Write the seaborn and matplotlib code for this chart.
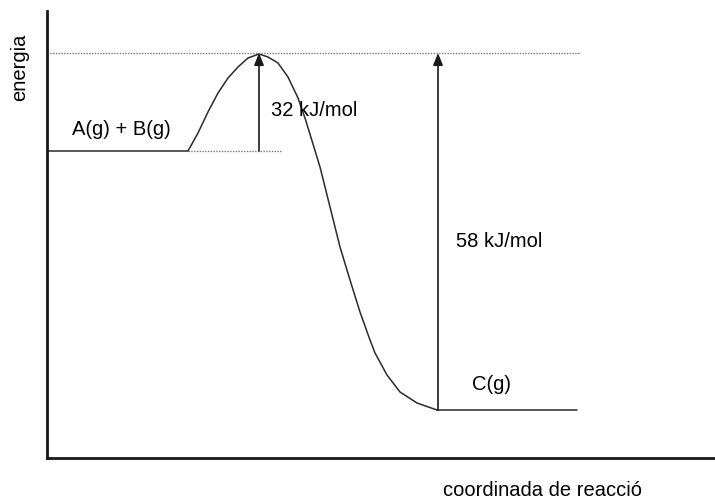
import matplotlib
matplotlib.use("Agg")
import matplotlib.pyplot as plt
import seaborn as sns
import pandas as pd

# diagram units (not to scale)
curve_x = [141, 151, 161, 171, 181, 191, 201, 212, 221, 231, 241, 251, 258,
           266, 273, 283, 293, 303, 313, 323, 328, 340, 353, 370, 390]
curve_y = [307, 325, 346, 365, 380, 391, 400, 404, 401, 395, 381, 360, 340,
           314, 291, 251, 211, 178, 146, 118, 105, 83, 66, 55, 48]

reactant_level = 307
product_level = 48
peak_level = 405
reactant_x = [0, 141]
product_x = [390, 530]
peak_dotted_x = [0, 533]
reactant_dotted_x = [141, 235]

ea_x = 212        # activation energy arrow
dh_x = 391        # reaction energy arrow
ea_label = "32 kJ/mol"
dh_label = "58 kJ/mol"
reactant_label = "A(g) + B(g)"
product_label = "C(g)"

sns.set_style("white")
plt.rcParams["font.family"] = ["Liberation Sans", "DejaVu Sans"]
plt.rcParams["text.color"] = "black"

fig = plt.figure(figsize=(7.15, 4.99), dpi=100)
ax = fig.add_axes([47 / 715, 41 / 499, 668 / 715, 447 / 499])

curve = pd.DataFrame({"x": curve_x, "y": curve_y})
sns.lineplot(data=curve, x="x", y="y", sort=False, color="#2a2a2a", lw=1.1, ax=ax)
sns.lineplot(x=reactant_x, y=[reactant_level] * 2, color="#2a2a2a", lw=1.1, ax=ax)
sns.lineplot(x=product_x, y=[product_level] * 2, color="#2a2a2a", lw=1.1, ax=ax)

ax.plot(peak_dotted_x, [peak_level] * 2, ls=(0, (1, 1)), color="#777777", lw=1)
ax.plot(reactant_dotted_x, [reactant_level] * 2, ls=(0, (1, 1)), color="#777777", lw=1)

arrow = dict(arrowstyle="-|>,head_length=0.72,head_width=0.29", color="#1a1a1a",
             lw=1.2, shrinkA=0, shrinkB=0, mutation_scale=10)
ax.annotate("", xy=(ea_x, peak_level), xytext=(ea_x, reactant_level), arrowprops=arrow)
ax.annotate("", xy=(dh_x, peak_level), xytext=(dh_x, product_level), arrowprops=arrow)

fs = 14.5
ax.text(25, 323, reactant_label, fontsize=fs, va="baseline", color="black")
ax.text(224, 342, ea_label, fontsize=fs, va="baseline", color="black")
ax.text(409, 211, dh_label, fontsize=fs, va="baseline", color="black")
ax.text(425, 68, product_label, fontsize=fs, va="baseline", color="black")

fig.text(20 / 715, 1 - 67 / 499, "energia", rotation=90, fontsize=fs,
         ha="center", va="center", color="black")
fig.text(443 / 715, 1 - 496 / 499, "coordinada de reacció", fontsize=fs,
         ha="left", va="baseline", color="black")

ax.set_xlim(0, 668)
ax.set_ylim(0, 447)
ax.set_xticks([])
ax.set_yticks([])
ax.set_xlabel("")
ax.set_ylabel("")
for side in ["top", "right"]:
    ax.spines[side].set_visible(False)
for side in ["left", "bottom"]:
    ax.spines[side].set_color("#1a1a1a")
    ax.spines[side].set_linewidth(2)

fig.savefig("out.png", dpi=100)
